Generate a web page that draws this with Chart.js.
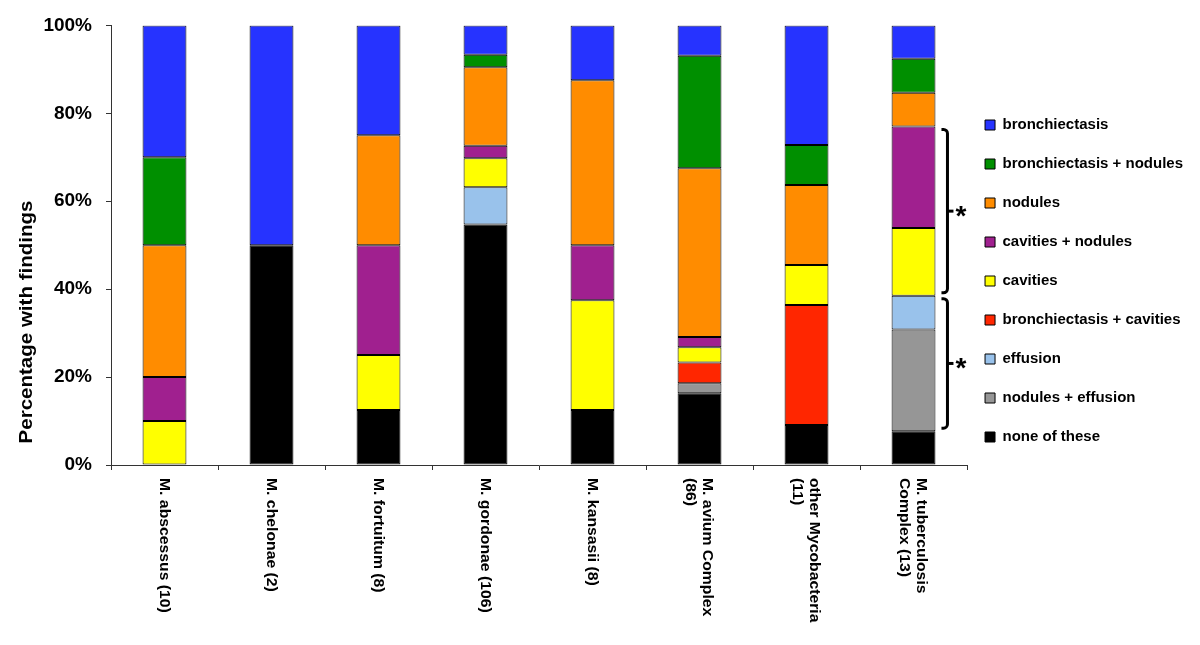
<!DOCTYPE html>
<html>
<head>
<meta charset="utf-8">
<script src="https://cdn.jsdelivr.net/npm/chart.js@4.4.1/dist/chart.umd.min.js"></script>
<style>
  html, body { margin: 0; padding: 0; background: #fff; }
  #wrap { width: 1200px; height: 645px; }
</style>
</head>
<body>
<div id="wrap"><canvas id="findingsChart" width="1200" height="645"></canvas></div>
<script>
// categories (x axis), each label split into lines
const categories = [
    ['M. abscessus (10)'],
    ['M. chelonae (2)'],
    ['M. fortuitum (8)'],
    ['M. gordonae (106)'],
    ['M. kansasii (8)'],
    ['M. avium Complex', '(86)'],
    ['other Mycobacteria', '(11)'],
    ['M. tuberculosis', 'Complex (13)']
];

// percentage of patients per finding, bottom of the stack first
const noneOfThese       = [0, 50, 12.5, 54.7, 12.5, 16.3, 9.1, 7.7];
const nodulesEffusion   = [0, 0, 0, 0, 0, 2.3, 0, 23.1];
const effusion          = [0, 0, 0, 8.5, 0, 0, 0, 7.7];
const bronchCavities    = [0, 0, 0, 0, 0, 4.7, 27.3, 0];
const cavities          = [10, 0, 12.5, 6.6, 25, 3.5, 9.1, 15.4];
const cavitiesNodules   = [10, 0, 25, 2.8, 12.5, 2.3, 0, 23.1];
const nodules           = [30, 0, 25, 17.9, 37.5, 38.4, 18.2, 7.7];
const bronchNodules     = [20, 0, 0, 2.8, 0, 25.6, 9.1, 7.7];
const bronchiectasis    = [30, 50, 25, 6.7, 12.5, 6.9, 27.2, 7.6];

const yTicks = [0, 20, 40, 60, 80, 100];

const FONT = "'Liberation Sans', Arial, Helvetica, sans-serif";

function series(label, values, color) {
    return {
        label: label,
        data: values.map(v => v === 0 ? null : v),
        backgroundColor: color,
        borderColor: '#000',
        borderWidth: 1,
        borderSkipped: false,
        barPercentage: 0.41,
        categoryPercentage: 1.0
    };
}

// nudge the legend a bit closer to the plot
const legendShift = {
    id: 'legendShift',
    afterLayout(chart) {
        chart.legend.left -= 6;
        chart.legend.right -= 6;
    }
};

// rotated category labels, y title, brackets with asterisks
const extras = {
    id: 'extras',
    afterDraw(chart) {
        const ctx = chart.ctx;
        const x = chart.scales.x;
        const y = chart.scales.y;

        ctx.save();
        ctx.fillStyle = '#000';

        // category labels, read top to bottom (source is slightly stretched)
        ctx.font = 'bold 14px ' + FONT;
        ctx.textAlign = 'left';
        ctx.textBaseline = 'middle';
        categories.forEach((lines, i) => {
            const cx = x.getPixelForValue(i) - 1;
            ctx.save();
            ctx.translate(cx, 478);
            ctx.rotate(Math.PI / 2);
            ctx.scale(1.125, 1);
            lines.forEach((line, k) => {
                ctx.fillText(line, 0, (k - (lines.length - 1) / 2) * 17);
            });
            ctx.restore();
        });

        // y axis title
        ctx.save();
        ctx.font = 'bold 18px ' + FONT;
        ctx.textAlign = 'center';
        ctx.textBaseline = 'middle';
        ctx.translate(27, 322);
        ctx.rotate(-Math.PI / 2);
        ctx.scale(1.14, 1);
        ctx.fillText('Percentage with findings', 0, 0);
        ctx.restore();

        // brackets next to the last bar
        const last = categories.length - 1;
        const bar = chart.getDatasetMeta(0).data[last];
        const xv = bar.x + bar.width / 2 + 12;
        const lo1 = noneOfThese[last];
        const lo2 = lo1 + nodulesEffusion[last] + effusion[last] + bronchCavities[last];
        const hi2 = lo2 + cavities[last] + cavitiesNodules[last];
        const groups = [[lo2, hi2], [lo1, lo2]];

        ctx.strokeStyle = '#000';
        ctx.lineWidth = 3;
        groups.forEach(([a, b]) => {
            const top = y.getPixelForValue(b) + 3;
            const bottom = y.getPixelForValue(a) - 3;
            const mid = (top + bottom) / 2;
            ctx.beginPath();
            ctx.moveTo(xv - 6, top);
            ctx.arcTo(xv, top, xv, top + 6, 4);
            ctx.lineTo(xv, bottom - 4);
            ctx.arcTo(xv, bottom, xv - 6, bottom, 4);
            ctx.lineTo(xv - 6, bottom);
            ctx.stroke();
            ctx.beginPath();
            ctx.moveTo(xv, mid);
            ctx.lineTo(xv + 6, mid);
            ctx.stroke();

            ctx.font = 'bold 28px ' + FONT;
            ctx.textAlign = 'left';
            ctx.textBaseline = 'middle';
            ctx.fillText('*', xv + 8, mid + 6);
        });

        ctx.restore();
    }
};

document.addEventListener('DOMContentLoaded', function() {
    const ctx = document.getElementById('findingsChart');

    new Chart(ctx, {
        type: 'bar',
        data: {
            labels: categories.map(c => c.join(' ')),
            datasets: [
                series('none of these', noneOfThese, '#000000'),
                series('nodules + effusion', nodulesEffusion, '#969696'),
                series('effusion', effusion, '#99c2eb'),
                series('bronchiectasis + cavities', bronchCavities, '#ff2600'),
                series('cavities', cavities, '#ffff00'),
                series('cavities + nodules', cavitiesNodules, '#a0208f'),
                series('nodules', nodules, '#ff8c00'),
                series('bronchiectasis + nodules', bronchNodules, '#008f00'),
                series('bronchiectasis', bronchiectasis, '#2633ff')
            ]
        },
        options: {
            responsive: false,
            animation: false,
            layout: {
                padding: { top: 24, bottom: 107, left: 0, right: 1 }
            },
            scales: {
                x: {
                    stacked: true,
                    grid: {
                        drawOnChartArea: false,
                        tickLength: 5,
                        color: '#333'
                    },
                    border: { color: '#333', width: 1 },
                    ticks: { display: false },
                    afterFit: function(scale) { scale.height = 73; }
                },
                y: {
                    stacked: true,
                    min: 0,
                    max: 100,
                    afterBuildTicks: function(scale) {
                        scale.ticks = yTicks.map(v => ({ value: v }));
                    },
                    grid: {
                        drawOnChartArea: false,
                        tickLength: 5,
                        color: '#333'
                    },
                    border: { color: '#333', width: 1 },
                    ticks: {
                        padding: 14,
                        color: '#000',
                        font: { family: FONT, size: 19, weight: 'bold' },
                        callback: function(value) { return value + '%'; }
                    },
                    afterFit: function(scale) { scale.width = 111; }
                }
            },
            plugins: {
                legend: {
                    position: 'right',
                    reverse: true,
                    labels: {
                        boxWidth: 10,
                        boxHeight: 10,
                        padding: 24,
                        color: '#000',
                        font: { family: FONT, size: 15, weight: 'bold' }
                    }
                },
                tooltip: { enabled: false }
            }
        },
        plugins: [legendShift, extras]
    });
});
</script>
</body>
</html>
